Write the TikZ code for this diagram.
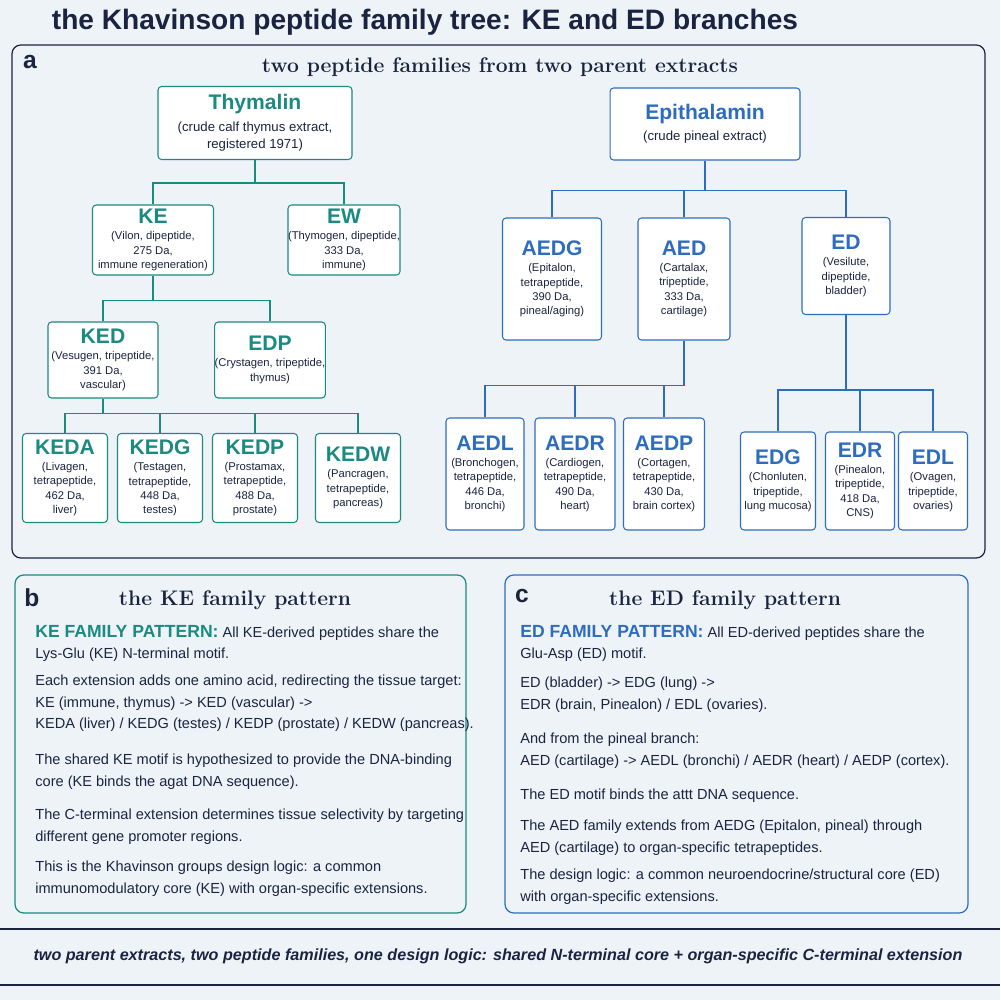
\documentclass[tikz,border=0pt]{standalone}
\usepackage{fontspec}
\setsansfont{Liberation Sans}
\usepackage{xcolor}
\definecolor{KeTeal}{HTML}{1B8A80}
\definecolor{EdBlue}{HTML}{2E6CC0}
\definecolor{NavyText}{HTML}{1A2440}
\definecolor{PaperBg}{HTML}{EEF3F8}
\usetikzlibrary{positioning, calc}
\newcommand{\pepsub}{\sffamily\fontsize{6.4}{8.2}\selectfont}
\newcommand{\pepname}[2]{\textcolor{#1}{\bfseries\fontsize{12}{13}\selectfont #2}\\[1pt]}

\begin{document}
\begin{tikzpicture}[x=0.02cm, y=-0.02cm,
  % Grundstile
  parent/.style={
    draw=#1, fill=white, line width=0.6pt, rounded corners=2pt,
    align=center, text=NavyText, inner sep=0pt,
    font=\sffamily\fontsize{7.5}{10}\selectfont
  },
  pep/.style={
    draw=#1, fill=white, line width=0.6pt, rounded corners=2pt,
    align=center, text=NavyText, inner sep=0pt, font=\pepsub
  },
  tree/.style={draw=#1, line width=0.7pt},
  panel/.style={draw=#1, line width=0.7pt, rounded corners=5pt},
  head/.style={font=\bfseries\fontsize{12}{14}\selectfont, text=NavyText},
  tag/.style={font=\sffamily\bfseries\fontsize{14}{16}\selectfont, text=NavyText},
  body/.style={font=\sffamily\fontsize{8.3}{12}\selectfont, text=NavyText,
    anchor=north west, align=left, inner sep=0pt}
]

% =============================================================================
% HINTERGRUND
% =============================================================================
\fill[PaperBg] (0,0) rectangle (1000,1000);
\useasboundingbox (0,0) rectangle (1000,1000);

\node[font=\sffamily\bfseries\fontsize{16}{18}\selectfont, text=NavyText] (title) at (425,22)
  {the Khavinson peptide family tree: KE and ED branches};

% =============================================================================
% PANEL a: STAMMBAUM
% =============================================================================
\draw[panel=NavyText] (12,45) rectangle (985,558);
\node[tag] (taga) at (30,62) {a};
\node[head] (heada) at (500,67) {two peptide families from two parent extracts};

% Elternextrakte
\node[parent=KeTeal, minimum width=3.88cm, minimum height=1.46cm] (thy) at (255,123)
  {\textcolor{KeTeal}{\bfseries\fontsize{12}{14}\selectfont Thymalin}\\[2pt]
   (crude calf thymus extract,\\registered 1971)};
\node[parent=EdBlue, minimum width=3.8cm, minimum height=1.44cm] (epi) at (705,124)
  {\textcolor{EdBlue}{\bfseries\fontsize{12}{14}\selectfont Epithalamin}\\[2pt]
   (crude pineal extract)};

% KE-Zweig
\node[pep=KeTeal, minimum width=2.42cm, minimum height=1.4cm] (ke) at (153,240)
  {\pepname{KeTeal}{KE}(Vilon, dipeptide,\\275 Da,\\immune regeneration)};
\node[pep=KeTeal, minimum width=2.24cm, minimum height=1.4cm] (ew) at (344,240)
  {\pepname{KeTeal}{EW}(Thymogen, dipeptide,\\333 Da,\\immune)};
\node[pep=KeTeal, minimum width=2.2cm, minimum height=1.52cm] (ked) at (103,360)
  {\pepname{KeTeal}{KED}(Vesugen, tripeptide,\\391 Da,\\vascular)};
\node[pep=KeTeal, minimum width=1.9cm, minimum height=1.52cm] (edp) at (270,360)
  {\pepname{KeTeal}{EDP}(Crystagen, tripeptide,\\thymus)};
\foreach \n/\x/\lab/\txt in {keda/65/KEDA/{(Livagen,\\tetrapeptide,\\462 Da,\\liver)},
    kedg/160/KEDG/{(Testagen,\\tetrapeptide,\\448 Da,\\testes)},
    kedp/255/KEDP/{(Prostamax,\\tetrapeptide,\\488 Da,\\prostate)},
    kedw/358/KEDW/{(Pancragen,\\tetrapeptide,\\pancreas)}} {
  \node[pep=KeTeal, minimum width=1.7cm, minimum height=1.78cm] (\n) at (\x,478)
    {\pepname{KeTeal}{\lab}\txt};
}

% ED-Zweig
\foreach \n/\x/\y/\w/\h/\lab/\txt in {aedg/552/279/1.98/2.44/AEDG/{(Epitalon,\\tetrapeptide,\\390 Da,\\pineal/aging)},
    aed/684/279/1.84/2.44/AED/{(Cartalax,\\tripeptide,\\333 Da,\\cartilage)},
    ed/846/266/1.76/1.94/ED/{(Vesilute,\\dipeptide,\\bladder)},
    aedl/485/474/1.56/2.24/AEDL/{(Bronchogen,\\tetrapeptide,\\446 Da,\\bronchi)},
    aedr/575/474/1.6/2.24/AEDR/{(Cardiogen,\\tetrapeptide,\\490 Da,\\heart)},
    aedp/664/474/1.62/2.24/AEDP/{(Cortagen,\\tetrapeptide,\\430 Da,\\brain cortex)},
    edg/778/481/1.5/1.96/EDG/{(Chonluten,\\tripeptide,\\lung mucosa)},
    edr/860/481/1.38/1.96/EDR/{(Pinealon,\\tripeptide,\\418 Da,\\CNS)},
    edl/933/481/1.38/1.96/EDL/{(Ovagen,\\tripeptide,\\ovaries)}} {
  \node[pep=EdBlue, minimum width=\w cm, minimum height=\h cm] (\n) at (\x,\y)
    {\pepname{EdBlue}{\lab}\txt};
}

% Verbindungen
\draw[tree=KeTeal] (thy.south) -- ++(0,23) coordinate (b1);
\foreach \c in {ke, ew} \draw[tree=KeTeal] (b1) -| (\c.north);
\draw[tree=KeTeal] (ke.south) -- ++(0,25) coordinate (b2);
\foreach \c in {ked, edp} \draw[tree=KeTeal] (b2) -| (\c.north);
\draw[tree=KeTeal] (ked.south) -- ++(0,15) coordinate (b3);
\foreach \c in {keda, kedg, kedp, kedw} \draw[tree=KeTeal] (b3) -| (\c.north);
\draw[tree=EdBlue] (epi.south) -- ++(0,30) coordinate (b4);
\foreach \c in {aedg, aed, ed} \draw[tree=EdBlue] (b4) -| (\c.north);
\draw[tree=EdBlue] (aed.south) -- ++(0,45) coordinate (b5);
\foreach \c in {aedl, aedr, aedp} \draw[tree=EdBlue] (b5) -| (\c.north);
\draw[tree=EdBlue] (ed.south) -- ++(0,75) coordinate (b6);
\foreach \c in {edg, edr, edl} \draw[tree=EdBlue] (b6) -| (\c.north);

% =============================================================================
% PANEL b: KE-MUSTER
% =============================================================================
\draw[panel=KeTeal] (15,575) rectangle (466,913);
\node[tag] (tagb) at (32,598) {b};
\node[head] (headb) at (235,600) {the KE family pattern};
\node[body] (kb1) at (35,625) {{\fontsize{10}{12}\selectfont\bfseries\color{KeTeal}KE FAMILY PATTERN:}\ All KE-derived peptides share the\\Lys-Glu (KE) N-terminal motif.};
\node[body] (kb2) at (35,675) {Each extension adds one amino acid, redirecting the tissue target:\\KE (immune, thymus) -> KED (vascular) ->\\KEDA (liver) / KEDG (testes) / KEDP (prostate) / KEDW (pancreas).};
\node[body] (kb3) at (35,754) {The shared KE motif is hypothesized to provide the DNA-binding\\core (KE binds the agat DNA sequence).};
\node[body] (kb4) at (35,809) {The C-terminal extension determines tissue selectivity by targeting\\different gene promoter regions.};
\node[body] (kb5) at (35,861) {This is the Khavinson groups design logic: a common\\immunomodulatory core (KE) with organ-specific extensions.};

% =============================================================================
% PANEL c: ED-MUSTER
% =============================================================================
\draw[panel=EdBlue] (505,575) rectangle (968,913);
\node[tag] (tagc) at (522,596) {c};
\node[head] (headc) at (725,600) {the ED family pattern};
\node[body] (cb1) at (520,625) {{\fontsize{10}{12}\selectfont\bfseries\color{EdBlue}ED FAMILY PATTERN:}\ All ED-derived peptides share the\\Glu-Asp (ED) motif.};
\node[body] (cb2) at (520,677) {ED (bladder) -> EDG (lung) ->\\EDR (brain, Pinealon) / EDL (ovaries).};
\node[body] (cb3) at (520,733) {And from the pineal branch:\\AED (cartilage) -> AEDL (bronchi) / AEDR (heart) / AEDP (cortex).};
\node[body] (cb4) at (520,789) {The ED motif binds the attt DNA sequence.};
\node[body] (cb5) at (520,820) {The AED family extends from AEDG (Epitalon, pineal) through\\AED (cartilage) to organ-specific tetrapeptides.};
\node[body] (cb6) at (520,869) {The design logic: a common neuroendocrine/structural core (ED)\\with organ-specific extensions.};

% =============================================================================
% FUSSZEILE
% =============================================================================
\draw[NavyText, line width=0.7pt] (0,929) -- (1000,929);
\draw[NavyText, line width=0.7pt] (0,985) -- (1000,985);
\node[font=\sffamily\bfseries\itshape\fontsize{9.2}{11}\selectfont, text=NavyText] (foot) at (498,956)
  {two parent extracts, two peptide families, one design logic: shared N-terminal core + organ-specific C-terminal extension};

\end{tikzpicture}
\end{document}
